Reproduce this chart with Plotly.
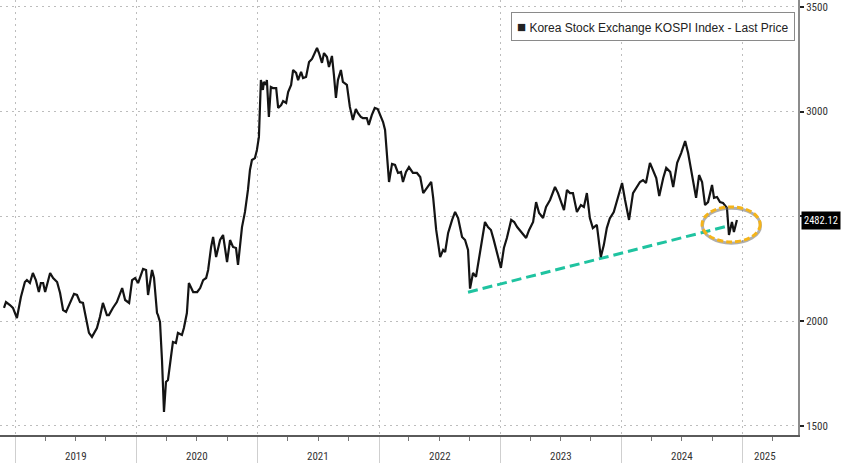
import plotly.graph_objects as go

# ---- data (weekly-ish KOSPI closes) ----
dates = [
    "2018-11-28", "2018-12-04", "2018-12-16", "2018-12-25",
    "2019-01-06", "2019-01-18", "2019-01-30", "2019-02-05", "2019-02-14", "2019-02-23",
    "2019-03-04", "2019-03-13", "2019-03-19", "2019-03-26", "2019-04-01", "2019-04-16",
    "2019-04-25", "2019-05-07", "2019-05-16", "2019-05-25", "2019-06-03", "2019-06-15",
    "2019-06-27", "2019-07-06", "2019-07-15", "2019-07-24", "2019-08-02", "2019-08-11",
    "2019-08-20", "2019-09-04", "2019-09-13", "2019-09-22", "2019-10-04", "2019-10-10",
    "2019-10-22", "2019-11-03", "2019-11-19", "2019-11-28", "2019-12-10", "2019-12-19",
    "2019-12-28",
    "2020-01-06", "2020-01-21", "2020-01-30", "2020-02-05", "2020-02-17", "2020-02-23",
    "2020-03-03", "2020-03-06", "2020-03-12", "2020-03-18", "2020-03-24", "2020-03-30",
    "2020-04-05", "2020-04-14", "2020-04-20", "2020-04-29", "2020-05-05", "2020-05-17",
    "2020-05-23", "2020-06-01", "2020-06-07", "2020-06-20", "2020-07-02", "2020-07-11",
    "2020-07-20", "2020-07-29", "2020-08-04", "2020-08-13", "2020-08-19", "2020-08-28",
    "2020-09-09", "2020-09-18", "2020-09-30", "2020-10-09", "2020-10-18", "2020-10-27",
    "2020-11-02", "2020-11-14", "2020-11-23", "2020-12-02", "2020-12-08", "2020-12-14",
    "2020-12-23", "2020-12-29",
    "2021-01-04", "2021-01-10", "2021-01-16", "2021-01-19", "2021-01-25", "2021-01-28",
    "2021-02-03", "2021-02-09", "2021-02-15", "2021-02-25", "2021-03-03", "2021-03-12",
    "2021-03-18", "2021-03-27", "2021-04-02", "2021-04-11", "2021-04-17", "2021-04-26",
    "2021-05-02", "2021-05-11", "2021-05-17", "2021-05-26", "2021-06-04", "2021-06-13",
    "2021-06-19", "2021-06-28", "2021-07-04", "2021-07-13", "2021-07-19", "2021-07-28",
    "2021-08-03", "2021-08-12", "2021-08-18", "2021-08-24", "2021-08-30", "2021-09-08",
    "2021-09-14", "2021-09-20", "2021-09-26", "2021-10-05", "2021-10-14", "2021-10-23",
    "2021-10-29", "2021-11-07", "2021-11-13", "2021-11-25", "2021-12-01", "2021-12-10",
    "2021-12-19", "2021-12-28",
    "2022-01-07", "2022-01-13", "2022-01-19", "2022-01-22", "2022-01-25", "2022-01-31",
    "2022-02-09", "2022-02-18", "2022-02-27", "2022-03-08", "2022-03-14", "2022-03-23",
    "2022-04-01", "2022-04-13", "2022-04-25", "2022-05-05", "2022-05-14", "2022-05-26",
    "2022-06-07", "2022-06-13", "2022-06-22", "2022-07-04", "2022-07-13", "2022-07-19",
    "2022-07-28", "2022-08-09", "2022-08-18", "2022-08-27", "2022-09-08", "2022-09-17",
    "2022-09-26", "2022-10-02", "2022-10-11", "2022-10-20", "2022-11-01", "2022-11-10",
    "2022-11-16", "2022-11-25", "2022-12-04", "2022-12-12", "2022-12-22",
    "2023-01-03", "2023-01-12", "2023-01-21", "2023-02-03", "2023-02-12", "2023-02-21",
    "2023-03-05", "2023-03-11", "2023-03-20", "2023-03-29", "2023-04-10", "2023-04-19",
    "2023-04-28", "2023-05-10", "2023-05-19", "2023-05-31", "2023-06-15", "2023-06-24",
    "2023-07-03", "2023-07-12", "2023-07-21", "2023-07-30", "2023-08-08", "2023-08-20",
    "2023-09-01", "2023-09-10", "2023-09-19", "2023-09-28", "2023-10-07", "2023-10-19",
    "2023-10-31", "2023-11-09", "2023-11-18", "2023-11-27", "2023-12-09", "2023-12-18",
    "2023-12-27",
    "2024-01-03", "2024-01-12", "2024-01-24", "2024-02-05", "2024-02-17", "2024-02-26",
    "2024-03-06", "2024-03-15", "2024-03-27", "2024-04-06", "2024-04-15", "2024-04-24",
    "2024-05-06", "2024-05-15", "2024-05-27", "2024-06-05", "2024-06-17", "2024-06-29",
    "2024-07-11", "2024-07-20", "2024-08-01", "2024-08-13", "2024-08-22", "2024-08-31",
    "2024-09-09", "2024-09-18", "2024-09-30", "2024-10-06", "2024-10-15", "2024-10-24",
    "2024-11-02", "2024-11-14", "2024-11-20", "2024-11-29", "2024-12-05", "2024-12-14",
]
kospi = [
    2063, 2091, 2077, 2063,
    2015, 2115, 2187, 2196, 2182, 2230,
    2196, 2139, 2182, 2182, 2139, 2230,
    2206, 2187, 2134, 2053, 2044, 2087,
    2130, 2125, 2091, 2087, 2020, 1944,
    1925, 1967, 2020, 2087, 2029, 2029,
    2063, 2091, 2158, 2101, 2087, 2196,
    2206,
    2182, 2249, 2244, 2125, 2244, 2206,
    2039, 2029, 1996, 1815, 1567, 1710,
    1719, 1829, 1901, 1896, 1944, 1934,
    1967, 2039, 2182, 2139, 2139, 2158,
    2196, 2206, 2244, 2354, 2402, 2306,
    2387, 2411, 2282, 2387, 2354, 2349,
    2268, 2449, 2521, 2626, 2721, 2769,
    2778, 2817,
    2879, 3150, 3103, 3141, 3127, 3150,
    2974, 3117, 3112, 3112, 3017, 3031,
    3050, 3041, 3093, 3127, 3198, 3184,
    3150, 3189, 3160, 3165, 3236, 3251,
    3270, 3303, 3279, 3232, 3279, 3260,
    3212, 3265, 3174, 3065, 3150, 3198,
    3141, 3136, 3127, 3022, 2960, 3012,
    2993, 2974, 2969, 2969, 2936, 2983,
    3017, 3012,
    2974, 2950, 2912, 2840, 2783, 2664,
    2750, 2745, 2707, 2712, 2664, 2712,
    2735, 2707, 2707, 2688, 2611, 2640,
    2664, 2588, 2435, 2306, 2340, 2330,
    2421, 2483, 2521, 2492, 2402, 2387,
    2340, 2155, 2230, 2211, 2325, 2402,
    2473, 2449, 2435, 2390, 2330,
    2254, 2349, 2397, 2483, 2473, 2449,
    2425, 2411, 2397, 2435, 2473, 2568,
    2516, 2492, 2545, 2578, 2640, 2611,
    2568, 2530, 2626, 2611, 2611, 2521,
    2554, 2545, 2611, 2492, 2444, 2459,
    2306, 2363, 2444, 2490, 2520, 2575,
    2630,
    2659, 2578, 2483, 2611, 2640, 2664,
    2673, 2659, 2755, 2721, 2683, 2597,
    2683, 2731, 2712, 2640, 2755, 2802,
    2859, 2802, 2697, 2588, 2697, 2664,
    2554, 2568, 2650, 2588, 2592, 2568,
    2564, 2540, 2411, 2473, 2425, 2482.12,
]

# support trend line (drawn on the chart)
trend_dates = ["2022-09-26", "2024-11-17"]
trend_values = [2138, 2454]

year_labels = ["2019", "2020", "2021", "2022", "2023", "2024", "2025"]
year_label_pos = ["2019-07-02", "2020-07-02", "2021-07-02", "2022-07-02",
                  "2023-07-02", "2024-07-02", "2025-03-10"]

ytick_vals = [1500, 2000, 2500, 3000, 3500]
ytick_text = ["1500", "2000", "", "3000", "3500"]

last_price = kospi[-1]
series_name = "Korea Stock Exchange KOSPI Index - Last Price"

FONT = "Liberation Sans Narrow, Arial Narrow, Roboto Condensed, DejaVu Sans Condensed, sans-serif"
FONT2 = "Liberation Sans, Arial, sans-serif"

fig = go.Figure()

fig.add_trace(go.Scatter(
    x=trend_dates, y=trend_values, mode="lines",
    line=dict(color="#1FC3A0", width=3, dash="10px,5px"),
    hoverinfo="skip", showlegend=False,
))

fig.add_trace(go.Scatter(
    x=dates, y=kospi, mode="lines",
    line=dict(color="#141414", width=2.2),
    name=series_name, showlegend=False,
))

# highlight ellipse (shadow + gold dashes)
fig.add_shape(type="circle", xref="x", yref="y",
              x0="2024-09-01", x1="2025-02-23", y0=2372, y1=2539,
              line=dict(color="rgba(110,110,110,0.55)", width=3), layer="above")
fig.add_shape(type="circle", xref="x", yref="y",
              x0="2024-08-31", x1="2025-02-22", y0=2378, y1=2545,
              line=dict(color="#F4B41A", width=3, dash="6px,3px"), layer="above")

# legend box
fig.add_annotation(
    xref="paper", yref="paper", x=0.996, y=0.972, xanchor="right", yanchor="top",
    text="<span style='font-size:15px'>■</span> " + series_name, showarrow=False,
    font=dict(family=FONT2, size=12, color="#222"),
    bgcolor="white", bordercolor="#8a8a8a", borderwidth=1, borderpad=5,
)

# last price tag
fig.add_annotation(
    xref="paper", yref="y", x=1.0, y=last_price, xanchor="left", yanchor="middle",
    xshift=3, text="%.2f" % last_price, showarrow=False,
    font=dict(family=FONT, size=10.5, color="white"),
    bgcolor="#000000", borderpad=2,
)

# year labels centered in each period
for lab, pos in zip(year_labels, year_label_pos):
    fig.add_annotation(
        xref="x", yref="paper", x=pos, y=-0.05, yanchor="middle",
        text=lab, showarrow=False,
        font=dict(family=FONT, size=11, color="#333"),
    )

fig.update_layout(
    width=848, height=463,
    margin=dict(l=0, r=50, t=0, b=28),
    paper_bgcolor="white", plot_bgcolor="white",
    showlegend=False,
    xaxis=dict(
        type="date", range=["2018-11-16", "2025-06-16"],
        tick0="2019-01-01", dtick="M12",
        showgrid=True, gridcolor="#bdbdbd", griddash="2px,4px", gridwidth=1.3,
        ticks="outside", ticklen=28, tickcolor="#cfcfcf", tickwidth=1,
        showticklabels=False,
        showline=True, linecolor="#5a5a5a", linewidth=2,
        minor=dict(dtick="M3", tick0="2019-01-01", ticks="outside", ticklen=4,
                   tickcolor="#777", tickwidth=1, showgrid=False),
        zeroline=False, fixedrange=True,
    ),
    yaxis=dict(
        side="right", range=[1457, 3532],
        tickvals=ytick_vals, ticktext=ytick_text,
        showgrid=True, gridcolor="#bdbdbd", griddash="2px,4px", gridwidth=1.3,
        ticks="outside", ticklen=4, tickcolor="#222", tickwidth=1.5,
        tickfont=dict(family=FONT, size=11, color="#333"),
        showline=True, linecolor="#8c8c8c", linewidth=2,
        zeroline=False, fixedrange=True,
    ),
)

fig.write_html(
    "out.html",
    config={"displayModeBar": False},
    post_script="document.body.style.margin='0';document.body.style.padding='0';",
)
